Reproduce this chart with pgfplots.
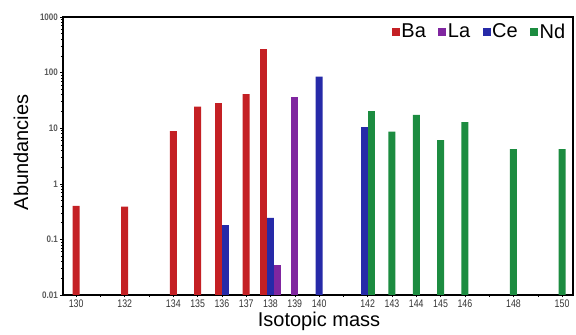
\documentclass[border=0pt]{standalone}
\usepackage{pgfplots}
\pgfplotsset{compat=1.18}
\usepackage{graphicx}
\usepackage{fontspec}
\setmainfont{Liberation Sans}
\definecolor{cBa}{RGB}{196,32,36}
\definecolor{cLa}{RGB}{128,38,160}
\definecolor{cCe}{RGB}{38,42,168}
\definecolor{cNd}{RGB}{28,140,64}
\newcommand\sx[1]{\scalebox{0.8}[1]{#1}}
\newcommand\sy[1]{\scalebox{0.85}[1]{#1}}
\begin{document}
\begin{tikzpicture}
\begin{axis}[
  scale only axis,
  width=510pt, height=278pt,
  ymode=log, log origin=infty,
  ymin=0.01, ymax=1000,
  xmin=129.46, xmax=150.45,
  ybar, bar width=7pt,
  axis line style={line width=1.4pt},
  xtick={130,132,134,135,136,137,138,139,140,142,143,144,145,146,148,150},
  xticklabels={\sx{130},\sx{132},\sx{134},\sx{135},\sx{136},\sx{137},\sx{138},\sx{139},\sx{140},\sx{142},\sx{143},\sx{144},\sx{145},\sx{146},\sx{148},\sx{150}},
  minor xtick={131,133,141,147,149},
  ytick={0.01,0.1,1,10,100,1000},
  yticklabels={\sy{0.01},\sy{0.1},\sy{1},\sy{10},\sy{100},\sy{1000}},
  tick align=outside,
  major tick length=2.5pt, minor tick length=2pt,
  tick style={black, line width=0.5pt},
  xtick pos=bottom, ytick pos=left,
  xticklabel style={font=\fontsize{11}{12}\selectfont, text=black!80, yshift=1pt},
  yticklabel style={font=\fontsize{9.5}{10}\selectfont\bfseries, text=black!65, xshift=1pt},
  xlabel={Isotopic mass}, ylabel={Abundancies},
  xlabel style={font=\fontsize{20}{22}\selectfont, at={(axis description cs:0.502,0)}, anchor=base, yshift=-32pt},
  ylabel style={font=\fontsize{20}{22}\selectfont, at={(axis description cs:0,0.513)}, anchor=center, rotate=0, yshift=42pt},
  legend columns=-1,
  legend style={at={(1,1)}, anchor=north east, xshift=-6pt, yshift=-5pt,
    draw=none, fill=none, inner sep=0pt,
    font=\fontsize{20}{22}\selectfont,
    /tikz/every even column/.append style={column sep=11pt},
    nodes={inner sep=1.5pt}},
  legend image code/.code={\fill[#1] (0pt,-4pt) rectangle (8pt,4pt);},
]
% main series
\addplot[fill=cBa, draw=none, bar shift=0pt] coordinates {(130,0.40) (132,0.39) (134,8.9) (135,24.5) (137,41)};
\addlegendentry{Ba}
\addplot[fill=cLa, draw=none, bar shift=0pt] coordinates {(139,37)};
\addlegendentry{La}
\addplot[fill=cCe, draw=none, bar shift=0pt] coordinates {(140,85) (138,0.245)};
\addlegendentry{Ce}
\addplot[fill=cNd, draw=none, bar shift=0pt] coordinates {(143,8.7) (144,17.4) (145,6.1) (146,12.8) (148,4.2) (150,4.2)};
\addlegendentry{Nd}
% bars that share a mass with another element
\addplot[fill=cBa, draw=none, bar shift=-3.5pt, forget plot] coordinates {(136,28)};
\addplot[fill=cBa, draw=none, bar shift=-7pt, forget plot] coordinates {(138,265)};
\addplot[fill=cLa, draw=none, bar shift=7pt, forget plot] coordinates {(138,0.035)};
\addplot[fill=cCe, draw=none, bar shift=3.5pt, forget plot] coordinates {(136,0.18)};
\addplot[fill=cCe, draw=none, bar shift=-3.5pt, forget plot] coordinates {(142,10.7)};
\addplot[fill=cNd, draw=none, bar shift=3.5pt, forget plot] coordinates {(142,20)};
\end{axis}
\path (current axis.south west) ++(-63pt,-37pt) coordinate (bl);
\path (current axis.north east) ++(3pt,17pt) coordinate (tr);
\path (bl) rectangle (tr);
\end{tikzpicture}
\end{document}
